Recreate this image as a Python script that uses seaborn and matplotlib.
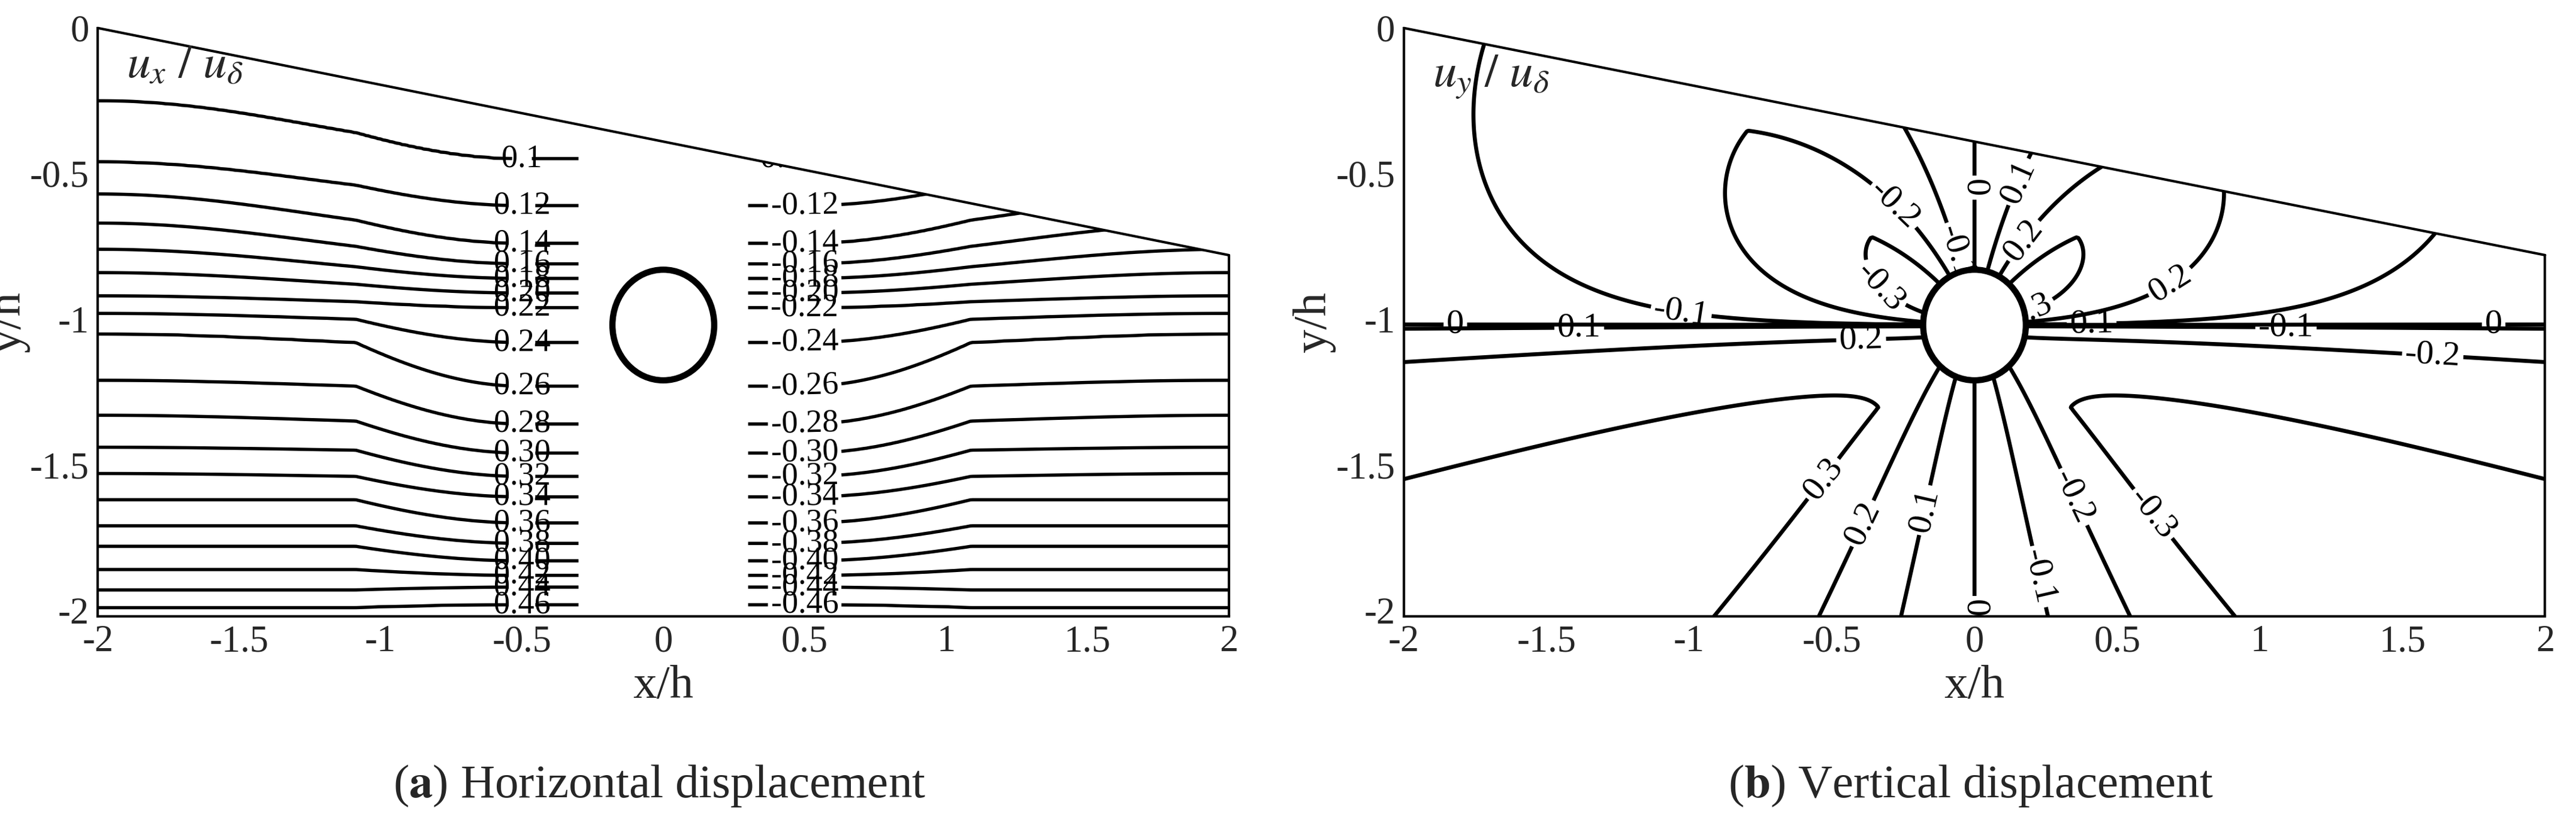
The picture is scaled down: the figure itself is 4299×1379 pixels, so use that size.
import numpy as np
import matplotlib
matplotlib.use("Agg")
import matplotlib.pyplot as plt
from matplotlib.patches import Ellipse, Polygon
import seaborn as sns

sns.set_theme(style="white")
plt.rcParams['font.family'] = ['Liberation Serif', 'DejaVu Serif']
plt.rcParams['mathtext.fontset'] = 'stix'
plt.rcParams['contour.negative_linestyle'] = 'solid'

# ---- data ----
ux_levels = [0.10, 0.12, 0.14, 0.16, 0.18, 0.20, 0.22, 0.24, 0.26, 0.28,
             0.30, 0.32, 0.34, 0.36, 0.38, 0.40, 0.42, 0.44, 0.46]
# depth of each ux contour at x = -2, -1 and -0.5 (left half, mirrored on right)
ux_depth_far = [-0.25, -0.46, -0.57, -0.67, -0.76, -0.84, -0.92, -0.98, -1.05, -1.21,
                -1.33, -1.44, -1.53, -1.62, -1.71, -1.78, -1.86, -1.93, -1.99]
ux_depth_mid = [-0.36, -0.54, -0.66, -0.75, -0.82, -0.88, -0.94, -1.00, -1.08, -1.23,
                -1.35, -1.45, -1.54, -1.62, -1.71, -1.78, -1.86, -1.93, -1.99]
ux_depth_near = [-0.45, -0.61, -0.74, -0.81, -0.86, -0.91, -0.96, -1.08, -1.23, -1.36,
                 -1.46, -1.54, -1.61, -1.70, -1.77, -1.83, -1.88, -1.92, -1.98]
ux_depth_x = [-2.0, -1.0, -0.5]

uy_levels = [-0.3, -0.2, -0.1, 0.0, 0.1, 0.2, 0.3]

surface_y = [0.0, -0.78]          # ground line at x=-2 and x=2
tunnel_center = (0.0, -1.02)
tunnel_size = (0.36, 0.38)

x_ticks = [-2, -1.5, -1, -0.5, 0, 0.5, 1, 1.5, 2]
y_ticks = [0, -0.5, -1, -1.5, -2]


def surface(x):
    return surface_y[0] + (surface_y[1] - surface_y[0]) * (np.asarray(x) + 2) / 4


def ux_half(xs, ys):
    lev = np.r_[0.08, ux_levels, 0.48]
    table = np.array([ux_depth_far, ux_depth_mid, ux_depth_near])
    # smooth blend between the three reference columns
    s = np.clip((np.asarray(xs) + 2) / 1.5, 0, 1)
    out = np.empty((len(ys), len(xs)))
    for j, x in enumerate(xs):
        t = 0.5 - 0.5 * np.cos(np.pi * np.clip((x + 2) / 1.5, 0, 1))
        xx = -2 + 1.5 * t
        d = np.array([np.interp(xx, ux_depth_x, table[:, k]) for k in range(table.shape[1])])
        d = np.r_[0.1, d, -2.1]
        out[:, j] = np.interp(-ys, -d, lev)
    return out


def style_axes(ax):
    ax.set_xlim(-2, 2)
    ax.set_ylim(-2.02, 0)
    ax.set_xticks(x_ticks)
    ax.set_xticklabels([f"{t:g}" for t in x_ticks])
    ax.set_yticks(y_ticks)
    ax.set_yticklabels([f"{t:g}" for t in y_ticks])
    ax.tick_params(direction="in", length=5, labelsize=15, width=1)
    for s in ["top", "right"]:
        ax.spines[s].set_visible(False)
    for s in ["left", "bottom"]:
        ax.spines[s].set_color("black")
        ax.spines[s].set_linewidth(1.0)
    ax.add_patch(Polygon([(-2, 0.05), (-2, 0), (2, surface_y[1]), (2, 0.05)],
                         closed=True, fc="white", ec="none", zorder=5, clip_on=False))
    ax.plot([-2, 2], surface_y, color="black", lw=1.0, zorder=6, clip_on=False)
    ax.plot([2, 2], [surface_y[1], -2.02], color="black", lw=1.0, zorder=6, clip_on=False)
    ax.add_patch(Ellipse(tunnel_center, *tunnel_size, fc="white", ec="black", lw=2.5, zorder=7))
    ax.set_xlabel("x/h", fontsize=19, labelpad=2)
    ax.set_ylabel("y/h", fontsize=19, labelpad=0)


fig = plt.figure(figsize=(14.33, 4.597), dpi=300)
ax1 = fig.add_axes([0.038, 0.254, 0.439, 0.712])
ax2 = fig.add_axes([0.545, 0.254, 0.443, 0.712])

# ---- (a) horizontal displacement ----
ys = np.linspace(-2.05, 0.02, 400)
xl = np.linspace(-2.0, -0.3, 200)
zl = ux_half(xl, ys)
XL, YL = np.meshgrid(xl, ys)
zl = np.where(YL > surface(XL) + 0.02, np.nan, zl)
xr = -xl[::-1]
zr = -ux_half(-xr, ys)
XR, YR = np.meshgrid(xr, ys)
zr = np.where(YR > surface(XR) + 0.02, np.nan, zr)

fmt = {v: ("0.1" if abs(v - 0.1) < 1e-9 else f"{v:.2f}") for v in ux_levels}
fmt_neg = {-v: "-" + s for v, s in fmt.items()}
cl = ax1.contour(XL, YL, zl, levels=ux_levels, colors="black", linewidths=1.3)
ax1.clabel(cl, fmt=fmt, fontsize=13, inline=True,
           manual=[(-0.5, d) for d in ux_depth_near])
cr = ax1.contour(XR, YR, zr, levels=sorted(-v for v in ux_levels), colors="black",
                 linewidths=1.3, linestyles="solid")
ax1.clabel(cr, fmt=fmt_neg, fontsize=13, inline=True,
           manual=[(0.5, d) for d in ux_depth_near])
ax1.text(-1.9, -0.17, r"$u_x\ /\ u_\delta$", fontsize=19, zorder=8)
style_axes(ax1)

# ---- (b) vertical displacement ----
xg = np.linspace(-2, 2, 600)
yg = np.linspace(-2.05, 0.02, 500)
X, Y = np.meshgrid(xg, yg)
dx, dy = X - tunnel_center[0], Y - tunnel_center[1]
r = np.hypot(dx, dy)
phi = np.degrees(np.arctan2(np.abs(dy), np.abs(dx)))
ang = np.where(phi < 40, np.sin(np.radians(phi * 90 / 40)) ** 0.3, (90 - phi) / 50)
mag = np.where(dy < 0, 0.36 * ang * (1 - 0.5 * np.exp(-r / 0.4)),
               0.42 * ang * np.exp(-r / 1.4))
uy = mag * np.sign(dx) * np.sign(dy)
uy = np.where((Y > surface(X) + 0.02) | ((dx / 0.18) ** 2 + (dy / 0.19) ** 2 < 0.9), np.nan, uy)
c2 = ax2.contour(X, Y, uy, levels=uy_levels, colors="black", linewidths=1.6,
                 linestyles="solid")
ax2.clabel(c2, fmt=lambda v: f"{v:g}", fontsize=14, inline=True)
ax2.text(-1.9, -0.2, r"$u_y\ /\ u_\delta$", fontsize=19, zorder=8)
style_axes(ax2)

fig.text(0.256, 0.035, r"($\mathbf{a}$) Horizontal displacement", ha="center", fontsize=19)
fig.text(0.765, 0.035, r"($\mathbf{b}$) Vertical displacement", ha="center", fontsize=19)

fig.savefig("out.png", dpi=300, facecolor="white")
